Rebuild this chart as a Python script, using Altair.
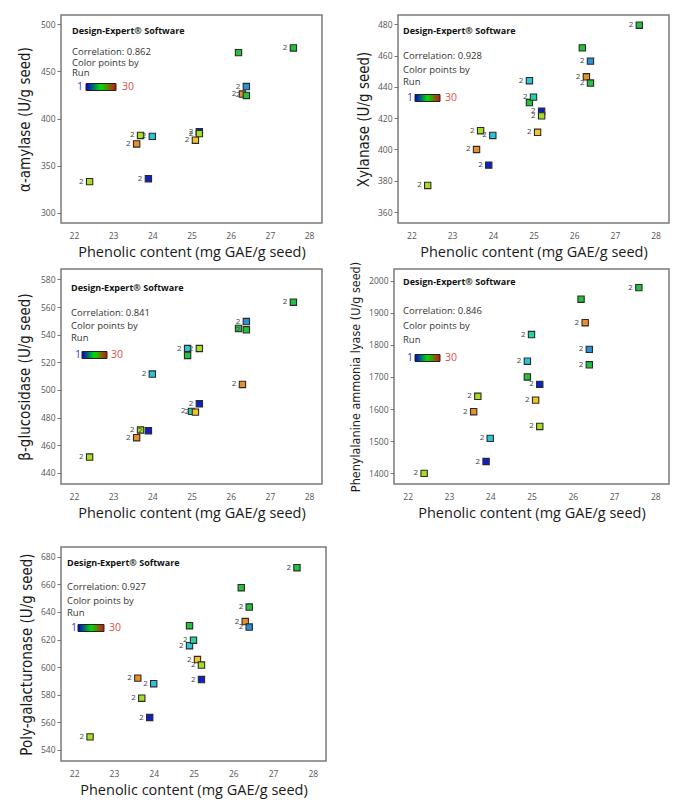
import altair as alt
import pandas as pd

# ---- data ----
phenolic = [22.4, 23.6, 23.7, 23.9, 24.0, 24.9, 24.9, 25.0, 25.1, 25.2, 25.2, 26.2, 26.3, 26.4, 26.4, 27.6]
run = [20, 26, 20, 2, 10, 10, 15, 12, 23, 2, 20, 15, 26, 7, 15, 15]
replicates = ["2", "2", "2", "2", "2", "2", "", "2", "2", "2", "2", "", "2", "2", "2", "2"]

alpha_amylase = [333, 373, 382, 336, 381, None, None, None, 377, 386, 384, 470, 426, 434, 424.5, 475]
xylanase = [377, 400, 412, 390, 409, 444, 430, 433.5, 411, 424.5, 421.5, 465, 446.5, 456.5, 442.5, 479.5]
glucosidase = [451.5, 465.5, 471, 470.5, 511.5, 530, 525, 484.5, 484, 490, 530, 544.5, 504, 549.5, 543.5, 563.5]
pal = [1400, 1592, 1640, 1437, 1509, 1749, 1700, 1832, 1628, 1677, 1546, 1942, 1869, 1786, 1738, 1978]
polygalacturonase = [549.5, 592, 577.5, 563.5, 588, 615.5, 630, 619.5, 605.5, 591, 601.5, 657.5, 633, 629, 643.5, 672]

x_ticks = [22, 23, 24, 25, 26, 27, 28]
x_title = "Phenolic content (mg GAE/g seed)"

panels = [
    dict(values=alpha_amylase, title="α-amylase (U/g seed)", corr="0.862",
         ydom=[289, 510], yticks=[300, 350, 400, 450, 500], w=261, h=208, tfs=15, tp=8,
         tx=11, ty=[16, 37, 48, 58, 72], lg=[16, 25, 55, 61]),
    dict(values=xylanase, title="Xylanase (U/g seed)", corr="0.928",
         ydom=[353, 486], yticks=[360, 380, 400, 420, 440, 460, 480], w=271, h=208, tfs=15, tp=6,
         tx=5, ty=[16, 41, 55, 67, 83], lg=[9, 17, 42, 47]),
    dict(values=glucosidase, title="β-glucosidase (U/g seed)", corr="0.841",
         ydom=[432, 587.5], yticks=[440, 460, 480, 500, 520, 540, 560, 580], w=261, h=215, tfs=15, tp=8,
         tx=10, ty=[19, 44, 57, 69, 86], lg=[14, 21, 46, 50]),
    dict(values=pal, title="Phenylalanine ammonia lyase (U/g seed)", corr="0.846",
         ydom=[1367, 2036], yticks=[1400, 1500, 1600, 1700, 1800, 1900, 2000], w=275, h=215, tfs=12.5, tp=6,
         tx=9, ty=[13, 42, 57, 71, 89], lg=[13, 21, 46, 51]),
    dict(values=polygalacturonase, title="Poly-galacturonase (U/g seed)", corr="0.927",
         ydom=[532, 687], yticks=[540, 560, 580, 600, 620, 640, 660, 680], w=265, h=214, tfs=15, tp=6,
         tx=6, ty=[16, 40, 54, 66, 81], lg=[10, 17, 43, 48]),
]

run_stops = [1, 2, 7, 10, 12, 15, 20, 23, 26, 30]
run_colors = ["#0000c0", "#1020c8", "#2a8fd6", "#2cc4dc", "#22d4a4", "#22c23c",
              "#a6de22", "#f2c622", "#e8902a", "#c82020"]

TXT_FONT = "Open Sans"
NARROW = "Liberation Sans Narrow, DejaVu Sans Condensed, Roboto"
one = pd.DataFrame({"k": [0]})


def note(text, x, y, size=9.5, weight="normal", color="#333", align="left"):
    return alt.Chart(one).mark_text(
        text=text, align=align, baseline="middle", fontSize=size,
        fontWeight=weight, color=color, font=TXT_FONT
    ).encode(x=alt.value(x), y=alt.value(y))


def make_panel(p):
    df = pd.DataFrame({"phenolic": phenolic, "value": p["values"],
                       "run": run, "rep": replicates}).dropna(subset=["value"])
    x = alt.X("phenolic:Q",
              scale=alt.Scale(domain=[21.67, 28.33], nice=False, zero=False),
              axis=alt.Axis(values=x_ticks, title=x_title, ticks=False, labelPadding=8,
                            titlePadding=6))
    y = alt.Y("value:Q",
              scale=alt.Scale(domain=p["ydom"], nice=False, zero=False),
              axis=alt.Axis(values=p["yticks"], title=p["title"], titlePadding=p["tp"],
                            labelPadding=2, tickSize=4, format="d",
                            titleFontSize=p["tfs"]))
    base = alt.Chart(df).encode(x=x, y=y)
    pts = base.mark_square(size=40, stroke="#2a2a2a", strokeWidth=1.1, opacity=1).encode(
        color=alt.Color("run:Q", scale=alt.Scale(domain=run_stops, range=run_colors),
                        legend=None))
    lbl = base.mark_text(align="right", baseline="middle", dx=-6, fontSize=8,
                         color="#444", font=TXT_FONT).encode(text="rep:N")
    tx, ty, lg = p["tx"], p["ty"], p["lg"]
    grad = alt.Chart(one).mark_rect(
        fill=alt.Gradient(gradient="linear",
                          stops=[alt.GradientStop(color="#0000d0", offset=0),
                                 alt.GradientStop(color="#00e000", offset=0.5),
                                 alt.GradientStop(color="#d01010", offset=1)],
                          x1=0, x2=1, y1=0, y2=0),
        stroke="#222", strokeWidth=1
    ).encode(x=alt.value(lg[1]), x2=alt.value(lg[2]),
             y=alt.value(ty[4] - 3.5), y2=alt.value(ty[4] + 3.5))
    layers = [
        note("Design-Expert® Software", tx, ty[0], size=9, weight="bold", color="#111"),
        note(f"Correlation: {p['corr']}", tx, ty[1]),
        note("Color points by", tx, ty[2]),
        note("Run", tx, ty[3]),
        note("1", lg[0], ty[4], size=10.5, color="#4040d0"),
        grad,
        note("30", lg[3], ty[4], size=10.5, color="#d85050"),
        pts, lbl,
    ]
    return alt.layer(*layers).properties(width=p["w"], height=p["h"])


charts = [make_panel(p) for p in panels]
row1 = alt.hconcat(charts[0], charts[1], spacing=76, bounds="flush")
row2 = alt.hconcat(charts[2], charts[3], spacing=72, bounds="flush")
row3 = alt.hconcat(charts[4], bounds="flush")
top = alt.vconcat(row1, row2, spacing=0)
chart = alt.vconcat(top, row3, spacing=25).properties(
    padding={"left": 8, "top": 6, "right": 2, "bottom": 2}
).configure_view(
    stroke="#7a7a7a", strokeWidth=1.5
).configure_axis(
    grid=False, domain=False, tickColor="#777", labelColor="#555",
    labelFontSize=8.5, labelFont=TXT_FONT, titleColor="#1a1a1a"
).configure_axisX(
    titleFont=TXT_FONT, titleFontSize=14.5, titleFontWeight="normal"
).configure_axisY(
    titleFont=NARROW, titleFontWeight="normal"
)

chart.save("out.html", embed_options={"renderer": "svg", "actions": False})
